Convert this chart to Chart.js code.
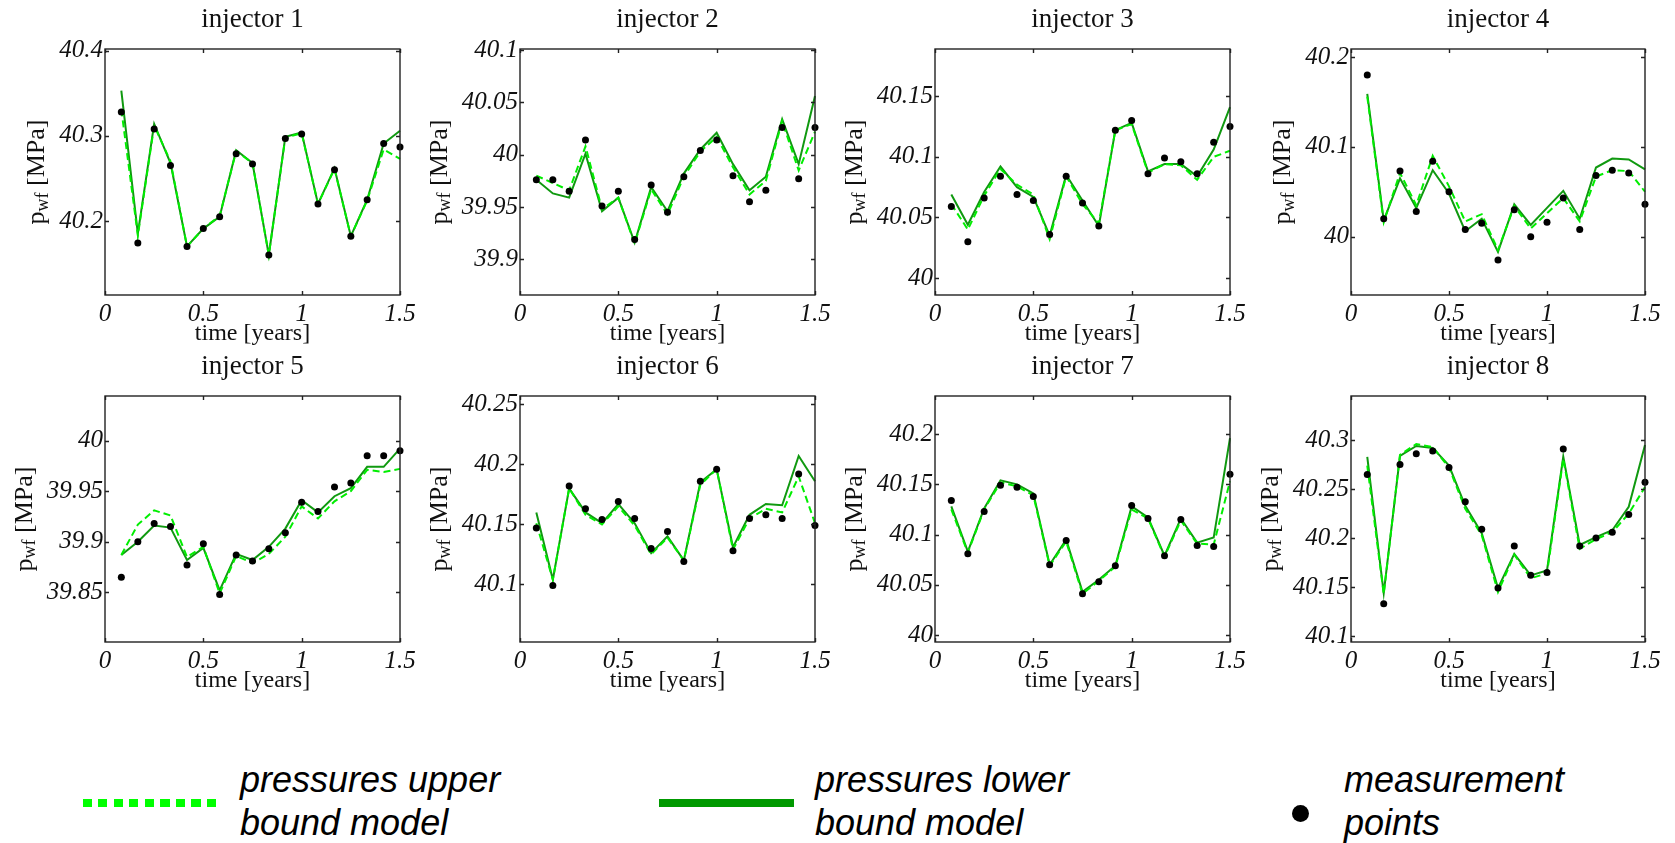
<!DOCTYPE html>
<html>
<head>
<meta charset="utf-8">
<title>injector pressures</title>
<script src="https://cdn.jsdelivr.net/npm/chart.js@4.4.1/dist/chart.umd.min.js"></script>
<style>
  html, body { margin: 0; padding: 0; background: #fff; }
  body { width: 1675px; height: 843px; position: relative; overflow: hidden; }
  canvas.panel { position: absolute; }
  .legend-text {
    position: absolute;
    font-family: 'Liberation Sans', Arial, sans-serif;
    font-style: italic;
    font-size: 36px;
    line-height: 43px;
    color: #000;
    white-space: nowrap;
  }
  .swatch { position: absolute; height: 8px; }
  .swatch.upper { background: repeating-linear-gradient(to right, #00ff00 0 9px, transparent 9px 15.5px); }
  .swatch.lower { background: #009900; }
  .dot { position: absolute; width: 17px; height: 17px; border-radius: 50%; background: #000; }
</style>
</head>
<body>
<div id="panels"></div>

<div class="swatch upper" style="left:83px; top:799px; width:138px;"></div>
<div class="legend-text" style="left:240px; top:758px;">pressures upper<br>bound model</div>
<div class="swatch lower" style="left:659px; top:799px; width:135px;"></div>
<div class="legend-text" style="left:815px; top:758px;">pressures lower<br>bound model</div>
<div class="dot" style="left:1292px; top:805px;"></div>
<div class="legend-text" style="left:1344px; top:758px;">measurement<br>points</div>

<script>
/**
 * Injector bottom-hole pressure panels (2 x 4)
 * measurement points + upper / lower bound model
 */

// time axis [years], one value per month
const TIMES = [0.083, 0.167, 0.25, 0.333, 0.417, 0.5, 0.583, 0.667, 0.75, 0.833, 0.917, 1, 1.083, 1.167, 1.25, 1.333, 1.417, 1.5];
const X_TICKS = [0, 0.5, 1, 1.5];

const TITLES = ['injector 1', 'injector 2', 'injector 3', 'injector 4', 'injector 5', 'injector 6', 'injector 7', 'injector 8'];

// injector 1
const meas1  = [40.328, 40.174, 40.308, 40.265, 40.170, 40.191, 40.205, 40.279, 40.267, 40.160, 40.297, 40.302, 40.220, 40.260, 40.182, 40.225, 40.291, 40.287];
const lower1 = [40.353, 40.185, 40.314, 40.268, 40.170, 40.191, 40.205, 40.283, 40.268, 40.160, 40.299, 40.304, 40.220, 40.262, 40.182, 40.225, 40.291, 40.306];
const upper1 = [40.331, 40.183, 40.312, 40.270, 40.170, 40.191, 40.206, 40.282, 40.268, 40.160, 40.298, 40.303, 40.220, 40.261, 40.182, 40.224, 40.284, 40.273];
// injector 2
const meas2  = [39.976, 39.976, 39.965, 40.014, 39.951, 39.965, 39.919, 39.971, 39.945, 39.979, 40.004, 40.014, 39.980, 39.955, 39.966, 40.026, 39.977, 40.026];
const lower2 = [39.976, 39.963, 39.959, 40.001, 39.946, 39.959, 39.916, 39.969, 39.946, 39.982, 40.005, 40.021, 39.991, 39.966, 39.979, 40.034, 39.991, 40.056];
const upper2 = [39.980, 39.973, 39.966, 40.008, 39.948, 39.959, 39.915, 39.967, 39.943, 39.979, 40.003, 40.017, 39.988, 39.962, 39.975, 40.032, 39.985, 40.022];
// injector 3
const meas3  = [40.059, 40.030, 40.066, 40.084, 40.069, 40.064, 40.036, 40.084, 40.062, 40.043, 40.122, 40.130, 40.086, 40.099, 40.096, 40.086, 40.112, 40.125];
const lower3 = [40.069, 40.044, 40.071, 40.092, 40.075, 40.067, 40.035, 40.085, 40.064, 40.043, 40.122, 40.128, 40.088, 40.094, 40.094, 40.084, 40.106, 40.141];
const upper3 = [40.061, 40.040, 40.068, 40.090, 40.077, 40.069, 40.032, 40.084, 40.061, 40.045, 40.122, 40.127, 40.087, 40.094, 40.093, 40.081, 40.100, 40.105];
// injector 4
const meas4  = [40.180, 40.020, 40.073, 40.028, 40.084, 40.050, 40.008, 40.015, 39.974, 40.030, 40.000, 40.016, 40.043, 40.008, 40.068, 40.074, 40.071, 40.036];
const lower4 = [40.159, 40.018, 40.065, 40.032, 40.074, 40.048, 40.006, 40.020, 39.983, 40.036, 40.013, 40.032, 40.051, 40.020, 40.077, 40.087, 40.086, 40.075];
const upper4 = [40.156, 40.016, 40.071, 40.035, 40.090, 40.056, 40.017, 40.025, 39.985, 40.034, 40.009, 40.026, 40.043, 40.017, 40.067, 40.074, 40.073, 40.050];
// injector 5
const meas5  = [39.865, 39.900, 39.918, 39.915, 39.877, 39.898, 39.848, 39.887, 39.881, 39.893, 39.909, 39.939, 39.930, 39.954, 39.958, 39.985, 39.985, 39.990];
const lower5 = [39.887, 39.900, 39.916, 39.914, 39.882, 39.894, 39.852, 39.888, 39.882, 39.895, 39.913, 39.941, 39.929, 39.945, 39.953, 39.974, 39.974, 39.992];
const upper5 = [39.887, 39.917, 39.931, 39.926, 39.885, 39.895, 39.849, 39.886, 39.879, 39.888, 39.905, 39.935, 39.923, 39.940, 39.950, 39.971, 39.969, 39.972];
// injector 6
const meas6  = [40.147, 40.099, 40.182, 40.163, 40.154, 40.169, 40.155, 40.130, 40.144, 40.119, 40.186, 40.196, 40.128, 40.155, 40.158, 40.155, 40.192, 40.149];
const lower6 = [40.160, 40.104, 40.180, 40.160, 40.151, 40.167, 40.151, 40.126, 40.140, 40.120, 40.185, 40.196, 40.131, 40.158, 40.167, 40.166, 40.207, 40.186];
const upper6 = [40.151, 40.104, 40.180, 40.158, 40.150, 40.165, 40.149, 40.125, 40.139, 40.120, 40.183, 40.196, 40.129, 40.155, 40.163, 40.160, 40.190, 40.151];
// injector 7
const meas7  = [40.134, 40.081, 40.123, 40.149, 40.147, 40.138, 40.070, 40.094, 40.041, 40.053, 40.069, 40.129, 40.116, 40.079, 40.115, 40.089, 40.088, 40.160];
const lower7 = [40.128, 40.083, 40.126, 40.154, 40.150, 40.141, 40.070, 40.095, 40.043, 40.055, 40.069, 40.128, 40.117, 40.079, 40.116, 40.092, 40.097, 40.196];
const upper7 = [40.125, 40.082, 40.125, 40.152, 40.148, 40.139, 40.069, 40.093, 40.041, 40.054, 40.068, 40.125, 40.116, 40.078, 40.114, 40.091, 40.090, 40.153];
// injector 8
const meas8  = [40.265, 40.133, 40.275, 40.286, 40.289, 40.272, 40.237, 40.209, 40.149, 40.192, 40.162, 40.165, 40.291, 40.192, 40.200, 40.206, 40.224, 40.257];
const lower8 = [40.283, 40.144, 40.284, 40.294, 40.292, 40.274, 40.233, 40.205, 40.149, 40.184, 40.162, 40.167, 40.283, 40.193, 40.201, 40.208, 40.232, 40.295];
const upper8 = [40.274, 40.143, 40.285, 40.296, 40.293, 40.272, 40.230, 40.203, 40.145, 40.183, 40.159, 40.164, 40.281, 40.189, 40.199, 40.206, 40.225, 40.252];

const MEAS  = [meas1, meas2, meas3, meas4, meas5, meas6, meas7, meas8];
const LOWER = [lower1, lower2, lower3, lower4, lower5, lower6, lower7, lower8];
const UPPER = [upper1, upper2, upper3, upper4, upper5, upper6, upper7, upper8];

// y axis limits and tick labels per panel [MPa]
const Y_MIN = [40.113, 39.866, 39.986, 39.935, 39.801, 40.052, 39.993, 40.094];
const Y_MAX = [40.402, 40.101, 40.189, 40.209, 40.044, 40.257, 40.238, 40.345];
const Y_TICKS = [
  [40.2, 40.3, 40.4],
  [39.9, 39.95, 40, 40.05, 40.1],
  [40, 40.05, 40.1, 40.15],
  [40, 40.1, 40.2],
  [39.85, 39.9, 39.95, 40],
  [40.1, 40.15, 40.2, 40.25],
  [40, 40.05, 40.1, 40.15, 40.2],
  [40.1, 40.15, 40.2, 40.25, 40.3]
];

// layout (page pixels)
const FRAME_LEFT = [105, 520, 935, 1351];
const FRAME_WIDTH = [295, 295, 295, 294];
const FRAME_TOP = [49, 396];
const FRAME_HEIGHT = 246;
const AXIS_W = 105;
const CANVAS_W = 440;
const CANVAS_H = 350;

const SERIF = "'Liberation Serif', 'Times New Roman', serif";
const TICK_FONT = { family: SERIF, size: 25, style: 'italic' };

// frame, inward ticks, title and axis labels (MATLAB look)
const panelDecor = {
  id: 'panelDecor',
  afterDatasetsDraw(chart, args, opts) {
    const { ctx, chartArea: a, scales } = chart;
    const tl = 4;
    ctx.save();
    ctx.strokeStyle = '#222';
    ctx.lineWidth = 1.4;
    ctx.beginPath();
    scales.x.ticks.forEach(t => {
      const px = Math.round(scales.x.getPixelForValue(t.value)) + 0.5;
      ctx.moveTo(px, a.bottom); ctx.lineTo(px, a.bottom - tl);
      ctx.moveTo(px, a.top); ctx.lineTo(px, a.top + tl);
    });
    scales.y.ticks.forEach(t => {
      const py = Math.round(scales.y.getPixelForValue(t.value)) + 0.5;
      ctx.moveTo(a.left, py); ctx.lineTo(a.left + tl, py);
      ctx.moveTo(a.right, py); ctx.lineTo(a.right - tl, py);
    });
    ctx.stroke();
    ctx.strokeRect(a.left, a.top, a.right - a.left, a.bottom - a.top);
    ctx.restore();
  },
  afterDraw(chart, args, opts) {
    const { ctx, chartArea: a, scales } = chart;
    const cx = (a.left + a.right) / 2;
    ctx.save();
    ctx.fillStyle = '#111';
    ctx.textAlign = 'center';
    ctx.textBaseline = 'middle';

    ctx.font = `27px ${SERIF}`;
    ctx.fillText(opts.title, cx, a.top - 29);

    ctx.font = `24px ${SERIF}`;
    ctx.fillText('time [years]', cx, a.bottom + 39);

    // widest y tick label decides where the rotated title goes
    ctx.font = `italic ${TICK_FONT.size}px ${SERIF}`;
    const widest = Math.max(...scales.y.ticks.map(t => ctx.measureText(String(t.value)).width));
    const lx = a.left - 4 - widest - 20;

    // p_wf [MPa], rotated
    const cy = (a.top + a.bottom) / 2;
    ctx.translate(lx, cy);
    ctx.rotate(-Math.PI / 2);
    ctx.textAlign = 'left';
    const big = `26px ${SERIF}`, small = `18px ${SERIF}`;
    ctx.font = big;
    const wp = ctx.measureText('p').width;
    const wr = ctx.measureText(' [MPa]').width;
    ctx.font = small;
    const ws = ctx.measureText('wf').width;
    let x = -(wp + ws + wr) / 2;
    ctx.font = big;
    ctx.fillText('p', x, 0);
    x += wp;
    ctx.font = small;
    ctx.fillText('wf', x, 6);
    x += ws;
    ctx.font = big;
    ctx.fillText(' [MPa]', x, 0);
    ctx.restore();
  }
};

class InjectorPanels {
  constructor() {
    this.charts = [];
  }

  init() {
    const root = document.getElementById('panels');
    for (let i = 0; i < 8; i++) {
      const col = i % 4, row = Math.floor(i / 4);
      const canvas = document.createElement('canvas');
      canvas.className = 'panel';
      canvas.width = CANVAS_W;
      canvas.height = CANVAS_H;
      canvas.style.left = (FRAME_LEFT[col] - AXIS_W) + 'px';
      canvas.style.top = (FRAME_TOP[row] - 49) + 'px';
      canvas.style.width = CANVAS_W + 'px';
      canvas.style.height = CANVAS_H + 'px';
      root.appendChild(canvas);
      this.charts.push(this.createChart(canvas, i, FRAME_WIDTH[col]));
    }
    return this;
  }

  toPoints(values) {
    return TIMES.map((t, k) => ({ x: t, y: values[k] }));
  }

  createChart(canvas, i, frameW) {
    return new Chart(canvas.getContext('2d'), {
      type: 'line',
      data: {
        datasets: [
          {
            label: 'measurement points',
            data: this.toPoints(MEAS[i]),
            showLine: false,
            pointRadius: 3.5,
            pointBackgroundColor: '#000',
            pointBorderWidth: 0,
            clip: false,
            order: 0
          },
          {
            label: 'pressures upper bound model',
            data: this.toPoints(UPPER[i]),
            borderColor: '#00ee00',
            borderWidth: 2,
            borderDash: [7, 4],
            pointRadius: 0,
            tension: 0,
            clip: false,
            order: 1
          },
          {
            label: 'pressures lower bound model',
            data: this.toPoints(LOWER[i]),
            borderColor: '#109910',
            borderWidth: 2,
            pointRadius: 0,
            tension: 0,
            clip: false,
            order: 2
          }
        ]
      },
      options: {
        responsive: false,
        animation: false,
        events: [],
        layout: { padding: { top: 49, right: CANVAS_W - AXIS_W - frameW, left: 0, bottom: 0 } },
        scales: {
          x: {
            type: 'linear',
            min: 0,
            max: 1.5,
            afterBuildTicks: s => { s.ticks = X_TICKS.map(v => ({ value: v })); },
            afterFit: s => { s.height = CANVAS_H - 49 - FRAME_HEIGHT; },
            grid: { display: false },
            border: { display: false },
            ticks: { font: TICK_FONT, color: '#111', padding: -4, maxRotation: 0, autoSkip: false, callback: v => String(v) }
          },
          y: {
            type: 'linear',
            min: Y_MIN[i],
            max: Y_MAX[i],
            afterBuildTicks: s => { s.ticks = Y_TICKS[i].map(v => ({ value: v })); },
            afterFit: s => { s.width = AXIS_W; },
            grid: { display: false },
            border: { display: false },
            ticks: { font: TICK_FONT, color: '#111', padding: -6, autoSkip: false, callback: v => String(v) }
          }
        },
        plugins: {
          legend: { display: false },
          tooltip: { enabled: false },
          panelDecor: { title: TITLES[i] }
        }
      },
      plugins: [panelDecor]
    });
  }
}

const injectorPanels = new InjectorPanels();
injectorPanels.init();
</script>
</body>
</html>
